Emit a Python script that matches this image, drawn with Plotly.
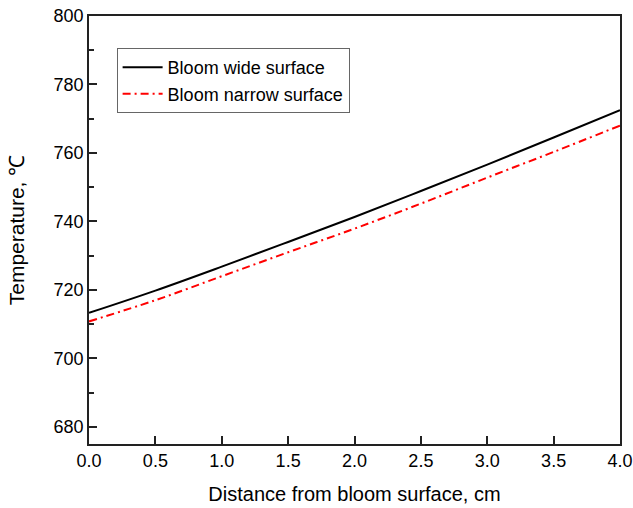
import plotly.graph_objects as go

distance = [0.0, 0.5, 1.0, 1.5, 2.0, 2.5, 3.0, 3.5, 4.0]
wide_surface = [713.3, 719.8, 726.8, 734.0, 741.3, 748.9, 756.6, 764.5, 772.5]
narrow_surface = [710.8, 717.0, 724.0, 731.0, 737.9, 745.2, 752.8, 760.3, 768.0]

font_family = "Liberation Sans, Arial, sans-serif"

fig = go.Figure()
fig.add_trace(go.Scatter(
    x=distance, y=wide_surface, mode="lines", name="Bloom wide surface",
    line=dict(color="black", width=2, shape="spline"),
))
fig.add_trace(go.Scatter(
    x=distance, y=narrow_surface, mode="lines", name="Bloom narrow surface",
    line=dict(color="#ff0000", width=2, dash="8px,4px,2px,4px", shape="spline"),
))

axis_common = dict(
    showline=True, linecolor="#222", linewidth=1.5, mirror=True,
    ticks="inside", tickcolor="#222", tickwidth=1.5, ticklen=8,
    showgrid=False, zeroline=False, automargin=False,
    ticklabeloverflow="allow",
    tickfont=dict(family=font_family, size=18, color="black"),
)

fig.update_xaxes(
    range=[0, 4], dtick=0.5, tick0=0, tickformat=".1f",
    title=dict(text="Distance from bloom surface, cm",
               font=dict(family=font_family, size=20, color="black"), standoff=17),
    **axis_common,
)
fig.update_yaxes(
    range=[675, 800], dtick=20, tick0=680,
    minor=dict(dtick=10, ticks="inside", ticklen=5, tickcolor="#222", tickwidth=1.5),
    title=dict(text="Temperature, ℃",
               font=dict(family=font_family, size=21, color="black"), standoff=23),
    **axis_common,
)

fig.update_layout(
    width=633, height=508,
    margin=dict(l=89, r=13, t=16, b=64),
    plot_bgcolor="white", paper_bgcolor="white",
    legend=dict(
        x=0.052, y=0.925, xanchor="left", yanchor="top",
        bordercolor="#666", borderwidth=1, bgcolor="white",
        font=dict(family=font_family, size=18, color="black"),
        tracegroupgap=0, itemwidth=40,
    ),
)

# remove the page's default 8px body margin so the figure fills the window exactly
fig.write_html("out.html", config={"displayModeBar": False},
               post_script="document.body.style.margin='0px';")
